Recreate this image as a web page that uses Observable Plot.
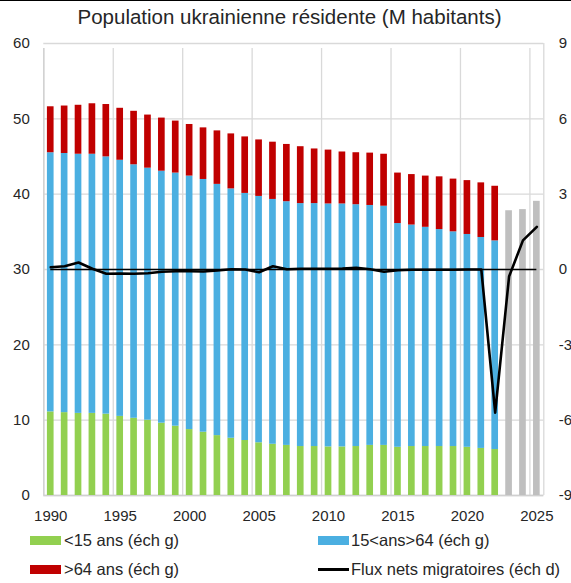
<!DOCTYPE html>
<html>
<head>
<meta charset="utf-8">
<script src="https://cdn.jsdelivr.net/npm/d3@7"></script>
<script src="https://cdn.jsdelivr.net/npm/@observablehq/plot@0.6"></script>
<style>
  html, body { margin: 0; padding: 0; background: #fff; }
  #wrap { position: relative; width: 571px; height: 583px; overflow: hidden; font-family: "Liberation Sans", Arial, sans-serif; color: #333; }
  #topline { position: absolute; left: 0; top: 0; width: 571px; height: 1px; background: #000; }
  #title { position: absolute; left: 4px; top: 5px; width: 571px; text-align: center; font-size: 20.5px; color: #262626; }
  .lg { position: absolute; font-size: 16.5px; color: #262626; line-height: 1; }
  .sw { position: absolute; width: 31px; height: 9px; }
  #chart { position: absolute; left: 0; top: 0; }
</style>
</head>
<body>
<div id="wrap">
  <div id="chart"></div>
  <div id="topline"></div>
  <div id="title">Population ukrainienne résidente (M habitants)</div>
  <div class="sw" style="left:30px;top:536px;background:#92D050"></div>
  <div class="lg" style="left:64px;top:532px">&lt;15 ans (éch g)</div>
  <div class="sw" style="left:318px;top:536px;background:#4BAFE1"></div>
  <div class="lg" style="left:351px;top:532px">15&lt;ans&gt;64 (éch g)</div>
  <div class="sw" style="left:30px;top:565px;background:#C00000"></div>
  <div class="lg" style="left:64px;top:561px">&gt;64 ans (éch g)</div>
  <div class="sw" style="left:318px;top:568px;height:3px;background:#000"></div>
  <div class="lg" style="left:351px;top:561px">Flux nets migratoires (éch d)</div>
</div>
<script>
// ---- Data ----
const yearsHist = d3.range(1990, 2023); // 1990..2022
const under15 = [11.1, 11.0, 10.9, 10.9, 10.8, 10.5, 10.25, 10.0, 9.6, 9.2, 8.75, 8.4, 7.95, 7.6, 7.3, 7.0, 6.8, 6.65, 6.5, 6.5, 6.45, 6.45, 6.5, 6.65, 6.65, 6.4, 6.5, 6.5, 6.5, 6.5, 6.4, 6.25, 6.1];
const age15to64 = [34.4, 34.4, 34.4, 34.4, 34.15, 34.0, 33.65, 33.45, 33.45, 33.6, 33.65, 33.55, 33.35, 33.1, 32.8, 32.7, 32.5, 32.35, 32.25, 32.25, 32.25, 32.25, 32.1, 31.85, 31.75, 29.7, 29.4, 29.1, 28.8, 28.5, 28.25, 28.0, 27.7];
const over64 = [6.1, 6.3, 6.5, 6.7, 6.95, 6.9, 7.1, 7.05, 7.05, 6.9, 6.85, 6.85, 7.1, 7.3, 7.5, 7.5, 7.6, 7.6, 7.55, 7.25, 7.15, 6.9, 6.9, 6.95, 6.9, 6.7, 6.7, 6.8, 7.0, 7.0, 7.15, 7.25, 7.25];
const yearsProj = [2023, 2024, 2025];
const totalProj = [37.8, 37.95, 39.05];
const yearsMig = d3.range(1990, 2026); // 1990..2025
const migration = [0.09, 0.13, 0.28, 0.03, -0.17, -0.16, -0.17, -0.15, -0.09, -0.07, -0.07, -0.08, -0.04, 0.01, 0.0, -0.11, 0.13, 0.01, 0.03, 0.03, 0.03, 0.04, 0.07, 0.01, -0.09, -0.03, -0.01, -0.01, -0.01, -0.01, 0.0, 0.0, -5.7, -0.28, 1.16, 1.7];
const seriesNames = ["<15 ans", "15<ans>64", ">64 ans"];
const seriesColors = ["#92D050", "#4BAFE1", "#C00000"];
const yTicks = [0, 10, 20, 30, 40, 50, 60];
const xLabels = [1990, 1995, 2000, 2005, 2010, 2015, 2020, 2025];

// ---- Derived tables ----
const halfBar = 0.24; // half bar width in years
const stacked = [];
yearsHist.forEach((yr, i) => {
  const vals = [under15[i], age15to64[i], over64[i]];
  let base = 0;
  vals.forEach((v, k) => {
    stacked.push({year: yr, series: seriesNames[k], y1: base, y2: base + v});
    base += v;
  });
});
const proj = yearsProj.map((yr, i) => ({year: yr, total: totalProj[i]}));
const mig = yearsMig.map((yr, i) => ({year: yr, value: migration[i]}));
// right axis (migration) mapped onto left axis: 0 -> 30, 3 units per 10
const toLeft = v => 30 + v * 10 / 3;
const vGrid = xLabels.map(d => d - 0.5);

const chart = Plot.plot({
  width: 571,
  height: 583,
  marginLeft: 43.3,
  marginRight: 27.7,
  marginTop: 43,
  marginBottom: 88,
  style: {fontFamily: "'Liberation Sans', Arial, sans-serif", fontSize: "15px", color: "#262626", background: "transparent"},
  x: {domain: [1989.5, 2025.5]},
  y: {domain: [0, 60]},
  color: {domain: seriesNames, range: seriesColors},
  marks: [
    Plot.ruleY(yTicks, {stroke: "#d9d9d9", strokeWidth: 1.3}),
    Plot.ruleX(vGrid, {y1: 0, y2: 60, stroke: "#d9d9d9", strokeWidth: 1.3, insetBottom: -5}),
    Plot.ruleX([2025.5], {y1: 0, y2: 60, stroke: "#d9d9d9", strokeWidth: 1.3}),
    Plot.ruleX([1989.5], {y1: 0, y2: 60, stroke: "#d0d0d0", strokeWidth: 1.3, insetBottom: -5}),
    Plot.ruleY([0], {stroke: "#d0d0d0", strokeWidth: 1.3}),
    Plot.rectY(stacked, {x1: d => d.year - halfBar, x2: d => d.year + halfBar, y1: "y1", y2: "y2", fill: "series"}),
    Plot.rectY(proj, {x1: d => d.year - halfBar, x2: d => d.year + halfBar, y1: 0, y2: "total", fill: "#BFBFBF"}),
    Plot.ruleY([toLeft(0)], {x1: d3.min(yearsMig), x2: d3.max(yearsMig), stroke: "#000", strokeWidth: 1.6}),
    Plot.lineY(mig, {x: "year", y: d => toLeft(d.value), stroke: "#000", strokeWidth: 2.6, strokeLinejoin: "round", strokeLinecap: "round"}),
    Plot.axisY({anchor: "left", ticks: yTicks, tickSize: 0, tickPadding: 14, label: null, fontSize: 15}),
    Plot.axisY({anchor: "right", ticks: yTicks, tickSize: 0, tickPadding: 15, label: null, fontSize: 15,
      tickFormat: d => String(Math.round((d - 30) * 3 / 10))}),
    Plot.axisX({anchor: "bottom", ticks: xLabels, tickSize: 0, tickPadding: 15, label: null, fontSize: 15, tickFormat: d => String(d)})
  ]
});
document.getElementById("chart").appendChild(chart);
</script>
</body>
</html>
